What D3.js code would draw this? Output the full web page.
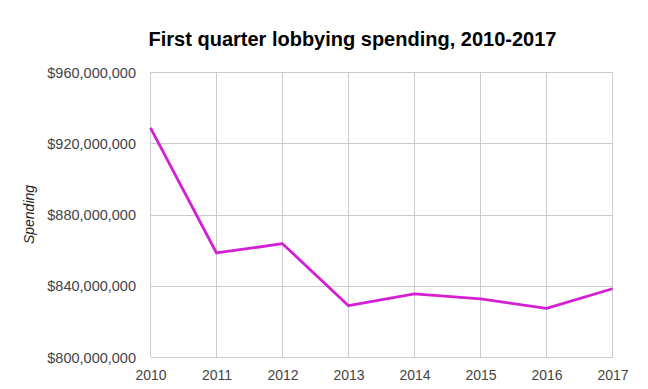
<!DOCTYPE html>
<meta charset="utf-8">
<title>First quarter lobbying spending</title>
<style>
    body {
        margin: 0;
        background: #fff;
        font-family: Arial, "Liberation Sans", sans-serif;
    }

    .grid line {
        stroke: #cccccc;
        stroke-width: 1;
        shape-rendering: crispEdges;
    }

    .axis path,
    .axis line {
        display: none;
    }

    .axis text {
        fill: #444;
        font-family: Arial, "Liberation Sans", sans-serif;
    }
</style>

<body>
    <div id="chart"></div>
    <script src="https://d3js.org/d3.v7.min.js"></script>
    <script>
        // data
        var years = ["2010", "2011", "2012", "2013", "2014", "2015", "2016", "2017"];
        var spending = [928600000, 858400000, 863600000, 828800000, 835400000, 832600000, 827300000, 838300000];
        var yTicks = [800000000, 840000000, 880000000, 920000000, 960000000];

        var width = 648,
            height = 389,
            margin = { top: 72, right: 36, bottom: 32, left: 150 };

        var svg = d3.select("#chart")
            .append("svg")
            .attr("width", width)
            .attr("height", height);

        var g = svg.append("g")
            .attr("transform", `translate(${margin.left},${margin.top})`);

        var innerW = 462, // 2010 -> 2017 spacing
            innerH = 285;

        var x = d3.scalePoint().domain(years).range([0.5, innerW + 0.5]);
        var y = d3.scaleLinear().domain([800000000, 960000000]).range([innerH, 0]);

        // gridlines
        var grid = g.append("g").attr("class", "grid");
        grid.selectAll(".h")
            .data(yTicks)
            .enter().append("line")
            .attr("x1", x(years[0]))
            .attr("x2", x(years[years.length - 1]))
            .attr("y1", d => Math.round(y(d)) + 0.5)
            .attr("y2", d => Math.round(y(d)) + 0.5);
        grid.selectAll(".v")
            .data(years)
            .enter().append("line")
            .attr("x1", d => x(d))
            .attr("x2", d => x(d))
            .attr("y1", 0)
            .attr("y2", innerH);

        // axes
        var fmt = d3.format("$,.0f");
        g.append("g")
            .attr("class", "axis y")
            .attr("transform", "translate(-14,0)")
            .call(d3.axisLeft(y).tickValues(yTicks).tickFormat(fmt).tickSize(0).tickPadding(0))
            .selectAll("text")
            .style("font-size", "14.5px")
            .attr("dy", "0.36em");

        g.append("g")
            .attr("class", "axis x")
            .attr("transform", `translate(0,${innerH + 10})`)
            .call(d3.axisBottom(x).tickSize(0).tickPadding(0))
            .selectAll("text")
            .style("font-size", "14px")
            .attr("dy", "0.9em");

        // line
        var line = d3.line()
            .x((d, i) => x(years[i]))
            .y(d => y(d));

        g.append("path")
            .datum(spending)
            .attr("fill", "none")
            .attr("stroke", "#d41fd4")
            .attr("stroke-width", 2.8)
            .attr("stroke-linejoin", "round")
            .attr("d", line);

        // y axis title
        svg.append("text")
            .attr("transform", `translate(34,${margin.top + innerH / 2}) rotate(-90)`)
            .style("text-anchor", "middle")
            .style("font-size", "14px")
            .style("font-style", "italic")
            .style("fill", "#222")
            .text("Spending");

        // title
        svg.append("text")
            .attr("x", 352.5)
            .attr("y", 46)
            .style("text-anchor", "middle")
            .style("font-size", "20px")
            .style("font-weight", "bold")
            .style("fill", "#000")
            .text("First quarter lobbying spending, 2010-2017");
    </script>
</body>
